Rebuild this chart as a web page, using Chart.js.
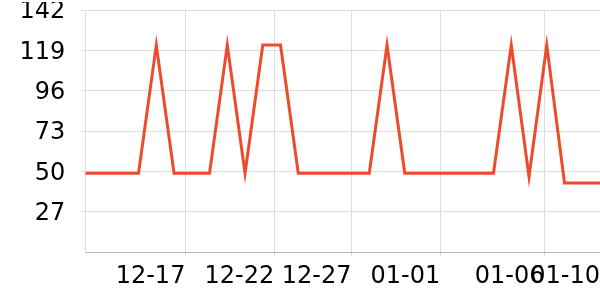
<!DOCTYPE html>
<html>
<head>
<meta charset="utf-8">
<script src="https://cdn.jsdelivr.net/npm/chart.js@4"></script>
<style>
  html, body { margin: 0; padding: 0; background: #fff; }
  .chart-container { width: 600px; height: 300px; }
</style>
</head>
<body>
<div class="chart-container"><canvas id="myChart"></canvas></div>
<script>
// one value per sample (index 0..29)
const values = [
  49, 49, 49, 49, 122, 49, 49, 49, 122, 49,
  122, 122, 49, 49, 49, 49, 49, 122, 49, 49,
  49, 49, 49, 49, 122, 47, 122, 43.5, 43.5, 43.5
];

// date ticks and where they fall along the samples
const xTickLabels = ['12-17', '12-22', '12-27', '01-01', '01-06', '01-10'];
const xTickAt = [5.64, 10.65, 15, 20, 25.87, 29];

const yTicks = [27, 50, 73, 96, 119, 142];
const yMin = 4;
const yMax = 142;

Chart.defaults.font.family = 'DejaVu Sans';
Chart.defaults.font.size = 24;
Chart.defaults.color = '#000';

const gridColor = '#dcdcdc';

// nudge the y labels down a little so they sit centred on the grid lines
const nudgeYLabels = {
    id: 'nudgeYLabels',
    afterLayout(chart) {
        const y = chart.scales.y;
        if (y._nudged) return;
        const orig = y.drawLabels;
        y.drawLabels = function (area) {
            const ctx = this.ctx;
            ctx.save();
            ctx.translate(0, 2);
            orig.call(this, area);
            ctx.restore();
        };
        y._nudged = true;
    },
};

new Chart('myChart', {
    type: 'line',
    data: {
        datasets: [
            {
                data: values.map((v, i) => ({ x: i, y: v })),
                borderColor: '#f04a2c',
                borderWidth: 3,
                pointRadius: 0,
                tension: 0,
                fill: false,
            },
        ],
    },
    options: {
        responsive: true,
        maintainAspectRatio: false,
        animation: false,
        layout: { padding: 0 },
        plugins: {
            legend: { display: false },
            tooltip: { enabled: false },
        },
        scales: {
            x: {
                type: 'linear',
                min: 0,
                max: values.length - 1,
                afterBuildTicks: (axis) => {
                    axis.ticks = xTickAt.map((v) => ({ value: v }));
                },
                afterFit: (axis) => {
                    axis.height = 47.7;
                    axis.paddingLeft = 0;
                    axis.paddingRight = 0;
                },
                ticks: {
                    autoSkip: false,
                    maxRotation: 0,
                    align: 'end',
                    padding: 6,
                    callback: (v) => xTickLabels[xTickAt.indexOf(v)],
                },
                grid: { color: gridColor, tickLength: 4 },
                border: { color: '#b3b3b3' },
            },
            y: {
                min: yMin,
                max: yMax,
                afterBuildTicks: (axis) => {
                    axis.ticks = yTicks.map((v) => ({ value: v }));
                },
                afterFit: (axis) => {
                    axis.width = 85.3;
                    axis.paddingTop = 10;
                    axis.paddingBottom = 0;
                },
                ticks: { padding: 16 },
                grid: { color: gridColor, tickLength: 4 },
                border: { color: gridColor },
            },
        },
    },
    plugins: [nudgeYLabels],
});
</script>
</body>
</html>
